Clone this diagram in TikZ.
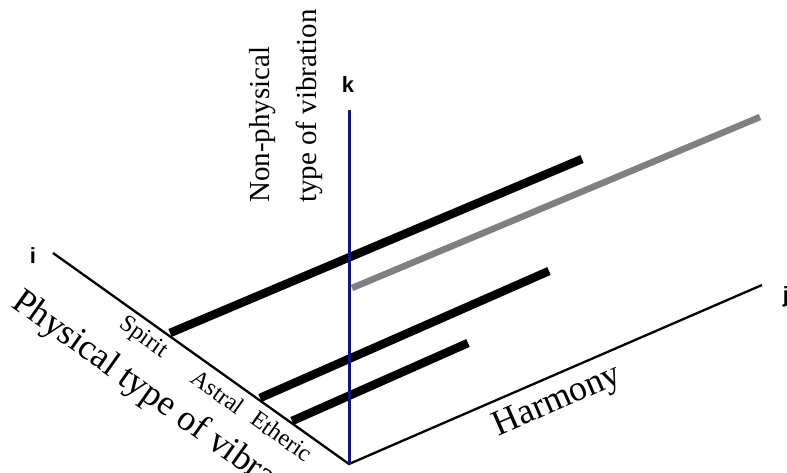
\documentclass[tikz,border=0pt]{standalone}
\usepackage{fontspec}
\setmainfont{Liberation Serif}
\newfontfamily\labsans{Liberation Sans}
\usetikzlibrary{positioning}
\definecolor{kblue}{RGB}{20,20,130}
\definecolor{bargray}{RGB}{128,128,128}
\tikzset{
  ax/.style={black, line width=2.3pt},
  kax/.style={kblue, line width=3pt},
  bar/.style={black, line width=8.5pt},
  gbar/.style={bargray, line width=6.5pt},
  axlab/.style={font=\labsans\bfseries\fontsize{22}{24}\selectfont, inner sep=0pt},
  lvl/.style={font=\fontsize{24}{26}\selectfont, rotate=-35.5, inner sep=0pt},
  big/.style={font=\fontsize{36}{40}\selectfont, inner sep=0pt},
}
\begin{document}
\begin{tikzpicture}[x=1pt, y=-1pt]
\useasboundingbox (0,0) rectangle (787,473);
% axes
\coordinate (O) at (349,464);
\coordinate (I) at (53,253);
\coordinate (J) at (762,285);
\coordinate (K) at (349,110);
% level bars
\coordinate (s0) at (170,333); \coordinate (s1) at (582,159);
\coordinate (g0) at (352,288); \coordinate (g1) at (760,117);
\coordinate (a0) at (260,398); \coordinate (a1) at (549,271);
\coordinate (e0) at (292,421); \coordinate (e1) at (468,343);
\draw[ax] (I) -- (O) -- (J);
\draw[bar] (s0) -- (s1);
\draw[gbar] (g0) -- (g1);
\draw[bar] (a0) -- (a1);
\draw[bar] (e0) -- (e1);
\draw[kax] (O) -- (K);
% labels
\node[axlab] (ilab) at (33,256) {i};
\node[axlab] (jlab) at (786,297) {j};
\node[axlab] (klab) at (348,85) {k};
\node[lvl] (spirit) at (143,338) {Spirit};
\node[lvl] (astral) at (218,392) {Astral};
\node[lvl] (etheric) at (282,436) {Etheric};
\node[big, rotate=-35.5, anchor=base west] (phys) at (10,306) {Physical type of vibration};
\node[big, rotate=23.5] (harm) at (558,402) {Harmony};
\node[font=\fontsize{29}{47}\selectfont, inner sep=0pt, rotate=90, align=left,
  anchor=south west] (nonphys) at (323,203) {Non-physical\\type of vibration};
\end{tikzpicture}
\end{document}
